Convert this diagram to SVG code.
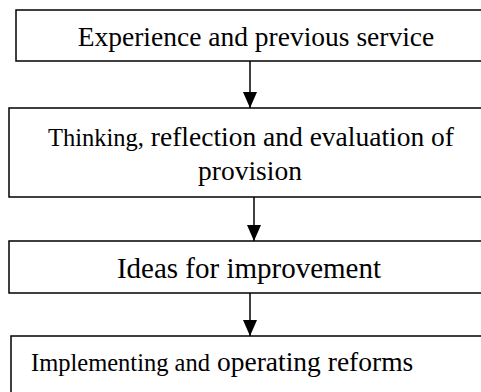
<svg xmlns="http://www.w3.org/2000/svg" width="481" height="392" viewBox="0 0 481 392">
<style>
.box{fill:#fff;stroke:#000;stroke-width:1.5}
.t{font-family:"Liberation Serif","Times New Roman",serif;fill:#000}
.c{stroke:#000;stroke-width:1.5;fill:none}
</style>
<defs>
<marker id="ah" viewBox="0 0 16 14" refX="16" refY="7" markerWidth="16" markerHeight="14" markerUnits="userSpaceOnUse" orient="auto">
<path d="M0,0 L16,7 L0,14 Z" fill="#000"/>
</marker>
</defs>
<rect width="481" height="392" fill="#fff"/>
<g id="n1"><rect class="box" x="16" y="10" width="480" height="51"/><text class="t" x="256" y="46" font-size="27.5" text-anchor="middle">Experience and previous service</text></g>
<g id="n2"><rect class="box" x="9" y="108" width="490" height="89"/><text class="t" x="48" y="146" font-size="27.5"><tspan font-size="24.5">Thinking,</tspan> reflection and evaluation of</text><text class="t" x="250" y="180" font-size="27.5" text-anchor="middle">provision</text></g>
<g id="n3"><rect class="box" x="9" y="241" width="490" height="52"/><text class="t" x="249" y="278" font-size="29" text-anchor="middle">Ideas for improvement</text></g>
<g id="n4"><rect class="box" x="11" y="336" width="490" height="70"/><text class="t" x="31" y="371" font-size="27.5"><tspan font-size="24.5">Implementing and</tspan><tspan x="217">operating reforms</tspan></text></g>
<g id="connectors">
<line class="c" x1="250" y1="61" x2="250" y2="108" marker-end="url(#ah)"/>
<line class="c" x1="254" y1="197" x2="254" y2="241" marker-end="url(#ah)"/>
<line class="c" x1="250" y1="293" x2="250" y2="336" marker-end="url(#ah)"/>
</g>
</svg>
